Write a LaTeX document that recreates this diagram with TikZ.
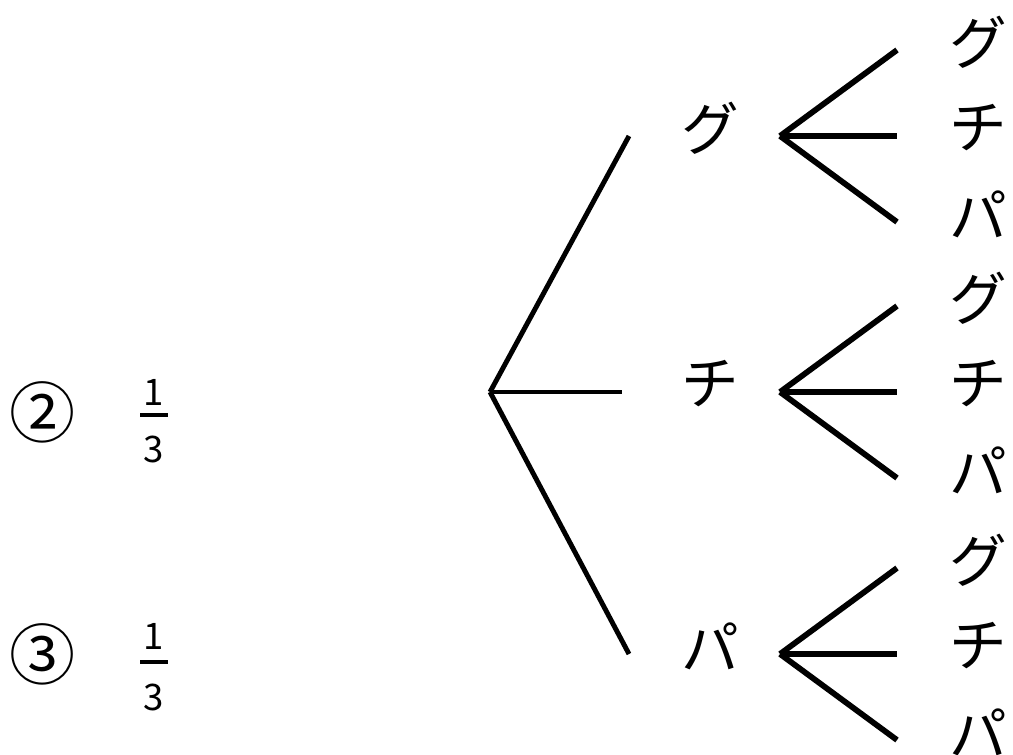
\documentclass[tikz,border=0pt]{standalone}
\usepackage{fontspec}
\newfontfamily\jpfont{Noto Sans CJK JP}
\tikzset{
  kana/.style={font=\jpfont\fontsize{41}{46}\selectfont, inner sep=0pt, yshift=0.2cm},
  circled/.style={font=\jpfont\fontsize{47}{52}\selectfont, inner sep=0pt},
  digit/.style={font=\jpfont\fontsize{26}{30}\selectfont, inner sep=0pt},
  branch/.style={line width=3.5pt},
  twig/.style={line width=4.1pt},
  bar/.style={line width=2.8pt},
}
\begin{document}
\begin{tikzpicture}
  \useasboundingbox (0,0) rectangle (25.325,-18.85);
  \coordinate (root) at (12.25,-9.8);
  % first throw, then second throw
  \foreach \n/\y/\dx/\lab in {g/-3.4/0/グ, c/-9.8/-0.175/チ, p/-16.35/0/パ} {
    \coordinate (\n end) at (15.725+\dx,\y);
    \node[kana] (\n) at (17.75,\y) {\lab};
    \draw[branch] (root) -- (\n end);
    \coordinate (\n fork) at (19.5,\y);
    \foreach \m/\dy/\labb in {g/2.15/グ, c/0/チ, p/-2.15/パ} {
      \coordinate (\n\m end) at (22.425,\y+\dy);
      \node[kana] (\n\m) at (24.45,\y+\dy) {\labb};
      \draw[twig] (\n fork) -- (\n\m end);
    }
  }
  % answers
  \node[circled] (two) at (1.075,-10.3) {②};
  \node[digit] (two num) at (3.83,-9.8) {1};
  \node[digit] (two den) at (3.83,-11.225) {3};
  \draw[bar] (3.5,-10.375) -- (4.2,-10.375);
  \node[circled] (three) at (1.075,-16.35) {③};
  \node[digit] (three num) at (3.83,-15.9) {1};
  \node[digit] (three den) at (3.83,-17.425) {3};
  \draw[bar] (3.5,-16.55) -- (4.2,-16.55);
\end{tikzpicture}
\end{document}
